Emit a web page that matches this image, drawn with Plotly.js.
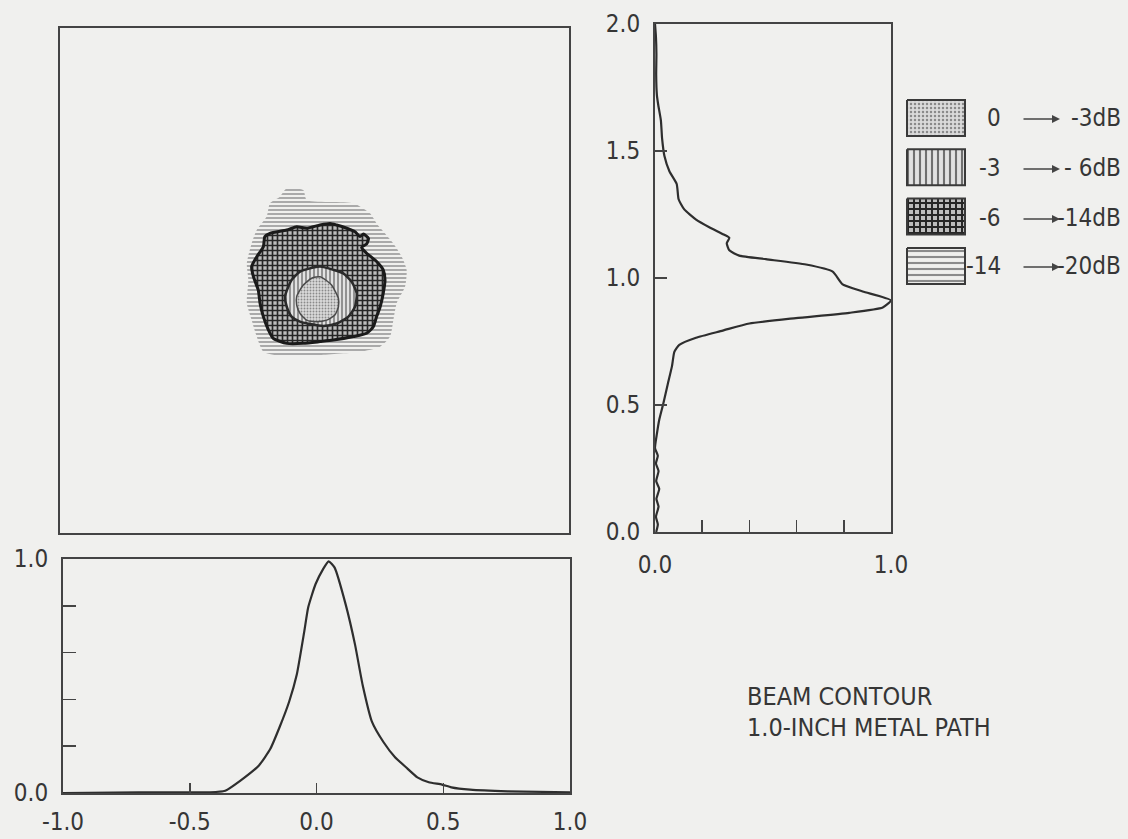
<!DOCTYPE html>
<html>
<head>
<meta charset="utf-8">
<script src="https://cdn.plot.ly/plotly-3.0.1.min.js"></script>
<style>
  html, body { margin: 0; padding: 0; background: #f0f0ee; }
  #chart { width: 1128px; height: 839px; }
</style>
</head>
<body>
<div id="chart"></div>
<script>
// Beam contour bands (x = lateral position, y = vertical position)
// -14 to -20 dB band
const band20X = [-0.109, -0.044, -0.031, 0.153, 0.218, 0.244, 0.310, 0.343, 0.362, 0.356, 0.323, 0.310, 0.297, 0.258, 0.179, 0.021, -0.109, -0.201, -0.227, -0.247, -0.266, -0.260, -0.266, -0.247, -0.227, -0.188, -0.175, -0.136];
const band20Y = [1.365, 1.358, 1.319, 1.306, 1.266, 1.226, 1.147, 1.094, 1.042, 0.976, 0.910, 0.844, 0.778, 0.738, 0.718, 0.705, 0.698, 0.718, 0.778, 0.844, 0.910, 1.002, 1.068, 1.147, 1.200, 1.253, 1.306, 1.332];
// -6 to -14 dB band
const band14X = [-0.175, -0.109, -0.070, -0.031, 0.022, 0.061, 0.087, 0.127, 0.159, 0.179, 0.192, 0.212, 0.205, 0.185, 0.205, 0.244, 0.270, 0.277, 0.270, 0.258, 0.244, 0.231, 0.205, 0.153, 0.074, 0.022, -0.044, -0.109, -0.162, -0.181, -0.201, -0.214, -0.221, -0.240, -0.247, -0.227, -0.201, -0.195];
const band14Y = [1.187, 1.200, 1.213, 1.207, 1.220, 1.226, 1.220, 1.207, 1.193, 1.174, 1.184, 1.167, 1.145, 1.131, 1.108, 1.075, 1.042, 1.002, 0.949, 0.896, 0.857, 0.817, 0.791, 0.778, 0.764, 0.758, 0.751, 0.751, 0.771, 0.804, 0.857, 0.910, 0.962, 1.015, 1.055, 1.094, 1.134, 1.174];
// -3 to -6 dB band
const band6X = [-0.090, -0.057, -0.018, 0.022, 0.074, 0.113, 0.146, 0.166, 0.159, 0.133, 0.087, 0.035, -0.018, -0.057, -0.090, -0.109, -0.116, -0.103];
const band6Y = [1.002, 1.035, 1.048, 1.055, 1.042, 1.028, 0.995, 0.949, 0.896, 0.857, 0.830, 0.820, 0.828, 0.837, 0.857, 0.896, 0.936, 0.975];
// 0 to -3 dB core
const band3X = [-0.070, -0.044, -0.011, 0.022, 0.048, 0.067, 0.080, 0.094, 0.094, 0.080, 0.048, 0.008, -0.031, -0.057, -0.070];
const band3Y = [0.936, 0.982, 1.009, 1.015, 0.999, 0.982, 0.960, 0.929, 0.896, 0.863, 0.843, 0.837, 0.843, 0.870, 0.903];

// Horizontal beam profile (bottom panel)
const horizPos = [-1.00, -0.80, -0.60, -0.42, -0.36, -0.30, -0.227, -0.182, -0.145, -0.108, -0.078, -0.048, -0.033, -0.004, 0.026, 0.048, 0.071, 0.115, 0.152, 0.182, 0.219, 0.264, 0.309, 0.353, 0.398, 0.443, 0.495, 0.532, 0.606, 0.755, 1.00];
const horizAmp = [0.000, 0.002, 0.003, 0.003, 0.010, 0.053, 0.118, 0.189, 0.283, 0.390, 0.505, 0.692, 0.792, 0.892, 0.957, 0.990, 0.964, 0.806, 0.634, 0.462, 0.304, 0.218, 0.154, 0.110, 0.067, 0.046, 0.036, 0.024, 0.014, 0.007, 0.003];

// Vertical beam profile (right panel)
const vertPos = [2.00, 1.95, 1.88, 1.80, 1.72, 1.68, 1.62, 1.55, 1.48, 1.42, 1.37, 1.31, 1.27, 1.23, 1.20, 1.17, 1.158, 1.137, 1.109, 1.088, 1.074, 1.053, 1.025, 0.975, 0.947, 0.912, 0.884, 0.863, 0.842, 0.821, 0.793, 0.765, 0.737, 0.709, 0.653, 0.582, 0.505, 0.442, 0.386, 0.33, 0.30, 0.27, 0.24, 0.20, 0.17, 0.13, 0.10, 0.06, 0.03, 0.00];
const vertAmp = [0.000, 0.004, 0.006, 0.005, 0.008, 0.014, 0.025, 0.030, 0.040, 0.061, 0.092, 0.100, 0.124, 0.174, 0.230, 0.294, 0.315, 0.304, 0.315, 0.357, 0.470, 0.640, 0.753, 0.795, 0.880, 1.000, 0.965, 0.823, 0.597, 0.400, 0.287, 0.174, 0.103, 0.082, 0.072, 0.054, 0.035, 0.018, 0.008, 0.000, 0.012, 0.004, 0.015, 0.005, 0.018, 0.006, 0.015, 0.004, 0.012, 0.005];

// Legend text
const levelFrom = ['0', '-3', '-6', '-14'];
const levelTo = ['-3dB', '- 6dB', '-14dB', '-20dB'];
const captionLines = ['BEAM CONTOUR', '1.0-INCH METAL PATH'];

// Tick labels
const bottomXTicks = [-1.0, -0.5, 0.0, 0.5, 1.0];
const bottomXText = ['-1.0', '-0.5', '0.0', '0.5', '1.0'];
const bottomYTicks = [0, 0.2, 0.4, 0.6, 0.8, 1.0];
const bottomYText = ['0.0', '', '', '', '', '1.0'];
const rightXTicks = [0, 0.2, 0.4, 0.6, 0.8, 1.0];
const rightXText = ['0.0', '', '', '', '', '1.0'];
const rightYTicks = [0, 0.5, 1.0, 1.5, 2.0];
const rightYText = ['0.0', '0.5', '1.0', '1.5', '2.0'];

// ---- styling ----
const W = 1128, H = 839;
const ink = '#363636';
const bg = '#f0f0ee';
const px = v => v / W;
const py = v => (H - v) / H;
const condensed = 'DejaVu Sans Condensed, Liberation Sans Narrow, DejaVu Sans, sans-serif';

// pattern per band: 0..-3, -3..-6, -6..-14, -14..-20
const bandStyles = [
  { pattern: { shape: '.', fgcolor: '#8a8a8a', bgcolor: '#dadada', size: 3, solidity: 0.3 }, line: { color: '#4a4a4a', width: 1.5 } },
  { pattern: { shape: '|', fgcolor: '#707070', bgcolor: '#e2e2e2', size: 4, solidity: 0.35 }, line: { color: '#2a2a2a', width: 2.5 } },
  { pattern: { shape: '+', fgcolor: '#262626', bgcolor: '#bdbdbd', size: 5, solidity: 0.55 }, line: { color: '#1a1a1a', width: 3 } },
  { pattern: { shape: '-', fgcolor: '#8c8c8c', bgcolor: 'rgba(0,0,0,0)', size: 4, solidity: 0.35 }, line: { color: 'rgba(0,0,0,0)', width: 0 } }
];

function bandTrace(xs, ys, style) {
  return {
    type: 'scatter', mode: 'lines', xaxis: 'x', yaxis: 'y',
    x: xs.concat([xs[0]]), y: ys.concat([ys[0]]),
    fill: 'toself', fillcolor: style.pattern.bgcolor,
    fillpattern: Object.assign({ fillmode: 'replace' }, style.pattern),
    line: Object.assign({ shape: 'spline', smoothing: 0.6 }, style.line),
    hoverinfo: 'skip'
  };
}

const traces = [
  bandTrace(band20X, band20Y, bandStyles[3]),
  bandTrace(band14X, band14Y, bandStyles[2]),
  bandTrace(band6X, band6Y, bandStyles[1]),
  bandTrace(band3X, band3Y, bandStyles[0]),
  {
    type: 'scatter', mode: 'lines', xaxis: 'x2', yaxis: 'y2',
    x: horizPos, y: horizAmp,
    line: { color: '#2e2e2e', width: 2.2, shape: 'spline', smoothing: 0.5 }
  },
  {
    type: 'scatter', mode: 'lines', xaxis: 'x3', yaxis: 'y3',
    x: vertAmp, y: vertPos,
    line: { color: '#2e2e2e', width: 2.2, shape: 'spline', smoothing: 0.5 }
  }
];

// legend swatches on their own hidden axis (units are pixels)
const swW = 58, swH = 36, swPitch = 49.3;
levelFrom.forEach((_, i) => {
  const st = bandStyles[i];
  const t = i * swPitch;
  const back = st.pattern.bgcolor === 'rgba(0,0,0,0)' ? bg : st.pattern.bgcolor;
  traces.push({
    type: 'scatter', mode: 'lines', xaxis: 'x4', yaxis: 'y4',
    x: [0, swW, swW, 0, 0], y: [t, t, t + swH, t + swH, t],
    fill: 'toself', fillcolor: back,
    fillpattern: Object.assign({ fillmode: 'replace' }, st.pattern, { size: i === 0 ? 4 : 6, bgcolor: back }),
    line: { color: '#3a3a3a', width: 2 },
    hoverinfo: 'skip'
  });
});

const tickFont = { family: condensed, size: 24, color: ink };
const boxAxis = { showline: true, mirror: true, linecolor: '#444', linewidth: 2, showgrid: false, zeroline: false, fixedrange: true };

const annotations = [];
const rowY = [118, 168, 218, 266];
levelFrom.forEach((lab, i) => {
  annotations.push({ xref: 'paper', yref: 'paper', x: px(1003), y: py(rowY[i]), xanchor: 'right', yanchor: 'middle', text: lab, showarrow: false,
    font: { family: condensed, size: 24, color: ink } });
  annotations.push({ xref: 'paper', yref: 'paper', x: px(1123), y: py(rowY[i]), xanchor: 'right', yanchor: 'middle', text: levelTo[i], showarrow: false,
    font: { family: condensed, size: 24, color: ink } });
  annotations.push({ xref: 'paper', yref: 'paper', x: px(1060), y: py(rowY[i] + 1), text: '', showarrow: true,
    ax: -38, ay: 0, arrowhead: 2, arrowsize: 1, arrowwidth: 1.6, arrowcolor: '#444', standoff: 0, startstandoff: 0 });
});
captionLines.forEach((line, i) => {
  annotations.push({ xref: 'paper', yref: 'paper', x: px(745), y: py(696 + i * 31), xanchor: 'left', yanchor: 'middle', text: line, showarrow: false,
    font: { family: condensed, size: 25, color: ink } });
});

const layout = {
  width: W, height: H,
  margin: { l: 0, r: 0, t: 0, b: 0 },
  paper_bgcolor: bg, plot_bgcolor: bg,
  showlegend: false,
  // contour map
  xaxis: Object.assign({}, boxAxis, { domain: [px(60), px(569)], range: [-1, 1], anchor: 'y', showticklabels: false, ticks: '' }),
  yaxis: Object.assign({}, boxAxis, { domain: [py(533), py(28)], range: [0, 2], anchor: 'x', showticklabels: false, ticks: '' }),
  // horizontal profile
  xaxis2: Object.assign({}, boxAxis, { domain: [px(63), px(570)], range: [-1, 1], anchor: 'y2',
    tickmode: 'array', tickvals: bottomXTicks, ticktext: bottomXText, ticks: 'inside', ticklen: 10, tickwidth: 1.5, tickcolor: '#444',
    tickfont: tickFont, ticklabelstandoff: 6 }),
  yaxis2: Object.assign({}, boxAxis, { domain: [py(793), py(559)], range: [0, 1], anchor: 'x2',
    tickmode: 'array', tickvals: bottomYTicks, ticktext: bottomYText, ticks: 'inside', ticklen: 13, tickwidth: 1.5, tickcolor: '#444',
    tickfont: tickFont, ticklabelstandoff: 8 }),
  // vertical profile
  xaxis3: Object.assign({}, boxAxis, { domain: [px(655), px(891)], range: [0, 1], anchor: 'y3',
    tickmode: 'array', tickvals: rightXTicks, ticktext: rightXText, ticks: 'inside', ticklen: 12, tickwidth: 1.5, tickcolor: '#444',
    tickfont: tickFont, ticklabelstandoff: 10 }),
  yaxis3: Object.assign({}, boxAxis, { domain: [py(532), py(24)], range: [0, 2], anchor: 'x3',
    tickmode: 'array', tickvals: rightYTicks, ticktext: rightYText, ticks: 'inside', ticklen: 12, tickwidth: 1.5, tickcolor: '#444',
    tickfont: tickFont, ticklabelstandoff: 8 }),
  // legend swatch frame
  xaxis4: { domain: [px(905), px(967)], range: [-2, 60], anchor: 'y4', visible: false, fixedrange: true },
  yaxis4: { domain: [py(285), py(98)], range: [185, -2], anchor: 'x4', visible: false, fixedrange: true },
  annotations: annotations
};

Plotly.newPlot('chart', traces, layout, { staticPlot: true, displayModeBar: false });
</script>
</body>
</html>
